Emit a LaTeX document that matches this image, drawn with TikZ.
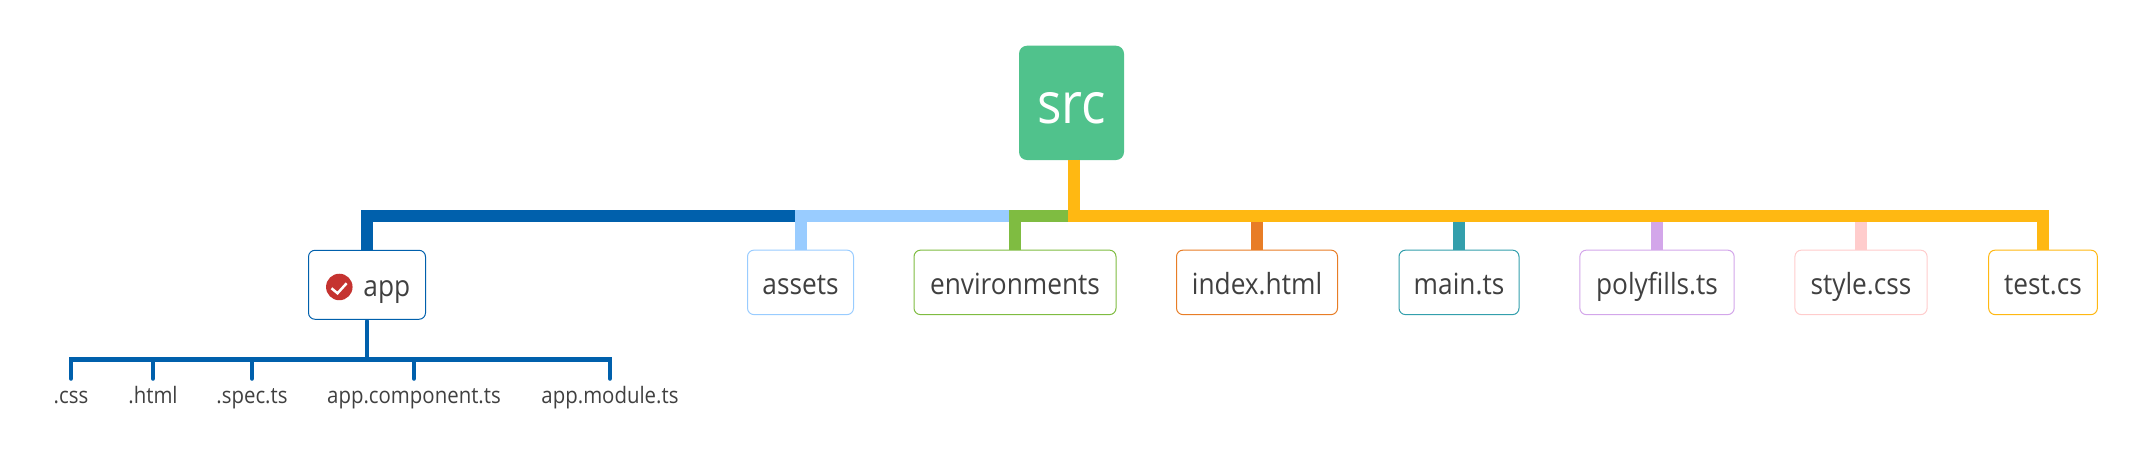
\documentclass[tikz,border=0pt]{standalone}
\usepackage{fontspec}
\setmainfont[FakeStretch=0.9]{Open Sans}
\usetikzlibrary{positioning}
\definecolor{srcgreen}{HTML}{50C28C}
\definecolor{appblue}{HTML}{0060AC}
\definecolor{assetsblue}{HTML}{99CCFF}
\definecolor{envgreen}{HTML}{7FBC41}
\definecolor{indexorange}{HTML}{E87D26}
\definecolor{mainteal}{HTML}{339FAC}
\definecolor{polypurple}{HTML}{D3A6EA}
\definecolor{stylepink}{HTML}{FFCCCC}
\definecolor{testyellow}{HTML}{FFB812}
\definecolor{labelgrey}{HTML}{404040}
\definecolor{checkred}{HTML}{C53330}
\tikzset{
  boxtext/.style={inner sep=0pt,text=labelgrey,font=\fontsize{8.3}{10}\selectfont,text height=8.5pt,text depth=1.7pt},
  childbox/.style={boxtext,draw,fill=white,rounded corners=0.065cm,line width=0.01cm,minimum height=0.645cm},
  leaflabel/.style={inner sep=0pt,minimum height=0.35cm,text=labelgrey,
    font=\fontsize{6.45}{8}\selectfont,text height=5.1pt,text depth=1.3pt},
  branch/.style={line width=0.12cm,line join=miter},
  twig/.style={appblue,line width=0.046cm,line cap=round,line join=miter}
}
\begin{document}
\begin{tikzpicture}
  \useasboundingbox (0,0) rectangle (21.54,4.57);

  % Root
  \node[fill=srcgreen,rounded corners=0.08cm,minimum width=1.05cm,minimum height=1.143cm,inner sep=0pt,
    text=white,font=\fontsize{16.2}{20}\selectfont,text height=12pt,text depth=0pt] (src) at (10.715,3.541) {src};
  \coordinate (srcdrop) at (10.735,2.97);
  \coordinate (trunk) at (10.735,2.407);

  % First level
  \node[childbox,draw=appblue,minimum width=1.17cm,minimum height=0.69cm] (app) at (3.67,1.722) {};
  \node[circle,fill=checkred,minimum size=0.265cm,inner sep=0pt] (appicon) at (3.393,1.70) {};
  \node[boxtext] (applabel) at (3.868,1.729) {app};
  \node[childbox,draw=assetsblue,minimum width=1.06cm] (assets) at (8.005,1.746) {assets};
  \node[childbox,draw=envgreen,minimum width=2.02cm] (environments) at (10.15,1.746) {environments};
  \node[childbox,draw=indexorange,minimum width=1.61cm] (index) at (12.57,1.746) {index.html};
  \node[childbox,draw=mainteal,minimum width=1.20cm] (main) at (14.59,1.746) {main.ts};
  \node[childbox,draw=polypurple,minimum width=1.543cm] (polyfills) at (16.57,1.746) {polyfills.ts};
  \node[childbox,draw=stylepink,minimum width=1.322cm] (style) at (18.61,1.746) {style.css};
  \node[childbox,draw=testyellow,minimum width=1.087cm] (test) at (20.43,1.746) {test.cs};

  % Tick inside the icon
  \draw[white,line width=0.025cm] (3.315,1.687) -- (3.375,1.637) -- (3.466,1.737);

  % Second level under app
  \node[leaflabel] (css) at (0.71,0.603) {.css};
  \node[leaflabel] (html) at (1.53,0.603) {.html};
  \node[leaflabel] (spec) at (2.52,0.603) {.spec.ts};
  \node[leaflabel] (component) at (4.14,0.603) {app.component.ts};
  \node[leaflabel] (module) at (6.10,0.603) {app.module.ts};

  % Branches, back to front
  \draw[branch,appblue] (srcdrop) -- (trunk) -| (app.north);
  \draw[branch,assetsblue] (srcdrop) -- (trunk) -| (assets.north);
  \draw[branch,envgreen] (srcdrop) -- (trunk) -| (environments.north);
  \draw[branch,indexorange] (srcdrop) -- (trunk) -| (index.north);
  \draw[branch,mainteal] (srcdrop) -- (trunk) -| (main.north);
  \draw[branch,polypurple] (srcdrop) -- (trunk) -| (polyfills.north);
  \draw[branch,stylepink] (srcdrop) -- (trunk) -| (style.north);
  \draw[branch,testyellow] (srcdrop) -- (trunk) -| (test.north);

  % Twigs
  \coordinate (apphub) at (3.67,0.974);
  \draw[twig] ([yshift=-0.024cm]app.south) -- (apphub) -| (css.north);
  \draw[twig] ([yshift=-0.024cm]app.south) -- (apphub) -| (html.north);
  \draw[twig] ([yshift=-0.024cm]app.south) -- (apphub) -| (spec.north);
  \draw[twig] ([yshift=-0.024cm]app.south) -- (apphub) -| (component.north);
  \draw[twig] ([yshift=-0.024cm]app.south) -- (apphub) -| (module.north);
\end{tikzpicture}
\end{document}
